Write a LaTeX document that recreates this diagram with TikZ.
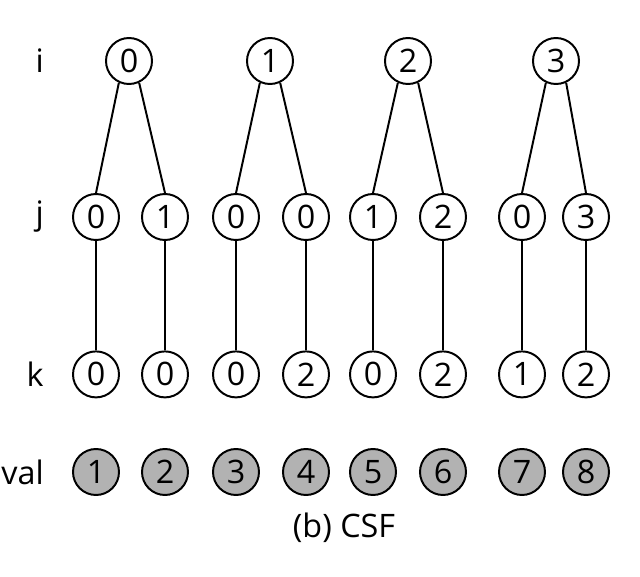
\documentclass[tikz,border=0pt]{standalone}
\usepackage{fontspec}
\setmainfont{Open Sans}
\usepackage{tikz}
\usetikzlibrary{positioning}

\tikzset{
  idx/.style={circle, draw, line width=1.4pt, minimum size=1.15cm, inner sep=0pt},
  valnode/.style={idx, fill=gray!60},
  lvl/.style={anchor=east, inner sep=0pt},
  edge/.style={line width=1.4pt}
}

\begin{document}
\begin{tikzpicture}[font=\fontsize{23}{27}\selectfont]
\useasboundingbox (0,0) rectangle (16,14.4);
% level names
\node[lvl] (li) at (1.1,12.875) {i};
\node[lvl] (lj) at (1.1,8.975) {j};
\node[lvl] (lk) at (1.1,5.04) {k};
\node[lvl] (lv) at (1.1,2.6) {val};
% i level
\node[idx] (i0) at (3.225,12.875) {0};
\node[idx] (i1) at (6.75,12.875) {1};
\node[idx] (i2) at (10.2,12.875) {2};
\node[idx] (i3) at (13.9,12.875) {3};
% j level
\node[idx] (j0) at (2.4,8.975) {0};
\node[idx] (j1) at (4.125,8.975) {1};
\node[idx] (j2) at (5.9,8.975) {0};
\node[idx] (j3) at (7.65,8.975) {0};
\node[idx] (j4) at (9.325,8.975) {1};
\node[idx] (j5) at (11.075,8.975) {2};
\node[idx] (j6) at (13.05,8.975) {0};
\node[idx] (j7) at (14.65,8.975) {3};
% k level
\node[idx] (k0) at (2.4,5.04) {0};
\node[idx] (k1) at (4.125,5.04) {0};
\node[idx] (k2) at (5.9,5.04) {0};
\node[idx] (k3) at (7.65,5.04) {2};
\node[idx] (k4) at (9.325,5.04) {0};
\node[idx] (k5) at (11.075,5.04) {2};
\node[idx] (k6) at (13.05,5.04) {1};
\node[idx] (k7) at (14.65,5.04) {2};
% values
\node[valnode] (v0) at (2.4,2.6) {1};
\node[valnode] (v1) at (4.125,2.6) {2};
\node[valnode] (v2) at (5.9,2.6) {3};
\node[valnode] (v3) at (7.65,2.6) {4};
\node[valnode] (v4) at (9.325,2.6) {5};
\node[valnode] (v5) at (11.075,2.6) {6};
\node[valnode] (v6) at (13.05,2.6) {7};
\node[valnode] (v7) at (14.65,2.6) {8};
% tree edges
\draw[edge] (i0.-115)--(j0.north); \draw[edge] (i0.-65)--(j1.north);
\draw[edge] (i1.-115)--(j2.north); \draw[edge] (i1.-65)--(j3.north);
\draw[edge] (i2.-115)--(j4.north); \draw[edge] (i2.-65)--(j5.north);
\draw[edge] (i3.-115)--(j6.north); \draw[edge] (i3.-65)--(j7.north);
\draw[edge] (j0)--(k0); \draw[edge] (j1)--(k1);
\draw[edge] (j2)--(k2); \draw[edge] (j3)--(k3);
\draw[edge] (j4)--(k4); \draw[edge] (j5)--(k5);
\draw[edge] (j6)--(k6); \draw[edge] (j7)--(k7);
\node (cap) at (8.6,1.2) {(b) CSF};
\end{tikzpicture}
\end{document}
